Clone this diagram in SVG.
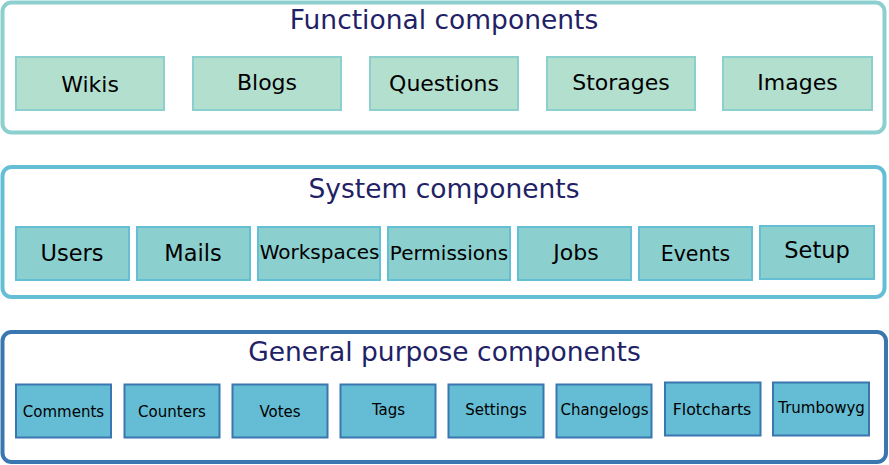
<svg xmlns="http://www.w3.org/2000/svg" width="889" height="465" viewBox="0 0 889 465">
<style>
text{font-family:"DejaVu Sans","Verdana",sans-serif;text-anchor:middle;fill:#000}
.title{font-size:26.5px;fill:#1f2266}
.frame{fill:#fff;stroke-width:4}
.f1{stroke:#8ccfcf}
.f2{stroke:#64bfd4}
.f3{stroke:#3a76b0}
.fb{fill:#b3dfcf;stroke:#8ccfcf;stroke-width:2}
.sb{fill:#8ccfcf;stroke:#64bfd4;stroke-width:2}
.gb{fill:#64bdd4;stroke:#3a76b0;stroke-width:2}
.lf{font-size:22px}
.lg{font-size:15px}
</style>
<rect width="889" height="465" fill="#fff"/>
<g id="functional">
<rect class="frame f1" x="2.5" y="2.5" width="882" height="130" rx="9"/>
<text class="title" x="444" y="29">Functional components</text>
</g>
<g id="wikis"><rect class="fb" x="16" y="57" width="148" height="53"/><text class="lf" x="90" y="92">Wikis</text></g>
<g id="blogs"><rect class="fb" x="193" y="57" width="148" height="53"/><text class="lf" x="267" y="90">Blogs</text></g>
<g id="questions"><rect class="fb" x="370" y="57" width="148" height="53"/><text class="lf" x="444" y="91">Questions</text></g>
<g id="storages"><rect class="fb" x="547" y="57" width="148" height="53"/><text class="lf" x="621" y="90">Storages</text></g>
<g id="images"><rect class="fb" x="723" y="57" width="149" height="53"/><text class="lf" x="797.5" y="90">Images</text></g>

<g id="system">
<rect class="frame f2" x="2.5" y="167" width="882" height="130" rx="9"/>
<text class="title" x="444" y="198">System components</text>
</g>
<g id="users"><rect class="sb" x="16" y="227" width="113" height="53"/><text x="72" y="261" font-size="22.5">Users</text></g>
<g id="mails"><rect class="sb" x="137" y="227" width="113" height="53"/><text x="193" y="261" font-size="22.5">Mails</text></g>
<g id="workspaces"><rect class="sb" x="258" y="227" width="122" height="53"/><text x="319.5" y="259" font-size="20">Workspaces</text></g>
<g id="permissions"><rect class="sb" x="388" y="227" width="122" height="53"/><text x="449" y="260" font-size="20">Permissions</text></g>
<g id="jobs"><rect class="sb" x="518" y="227" width="113" height="53"/><text x="576" y="260" font-size="22">Jobs</text></g>
<g id="events"><rect class="sb" x="639" y="227" width="113" height="53"/><text x="695.5" y="261" font-size="20.5">Events</text></g>
<g id="setup"><rect class="sb" x="760" y="226" width="114" height="53"/><text x="817" y="258" font-size="22.5">Setup</text></g>

<g id="general">
<rect class="frame f3" x="2.5" y="332" width="883.5" height="130" rx="9"/>
<text class="title" x="444.5" y="361">General purpose components</text>
</g>
<g id="comments"><rect class="gb" x="16" y="384.5" width="95" height="53"/><text class="lg" x="63.5" y="417">Comments</text></g>
<g id="counters"><rect class="gb" x="124.5" y="384.5" width="95" height="53"/><text class="lg" x="172" y="417">Counters</text></g>
<g id="votes"><rect class="gb" x="232.5" y="384.5" width="95" height="53"/><text class="lg" x="280" y="417">Votes</text></g>
<g id="tags"><rect class="gb" x="340.5" y="384.5" width="95" height="53"/><text class="lg" x="388.5" y="415">Tags</text></g>
<g id="settings"><rect class="gb" x="448.5" y="384.5" width="95" height="53"/><text class="lg" x="496" y="415" font-size="15.5">Settings</text></g>
<g id="changelogs"><rect class="gb" x="556.5" y="384.5" width="95" height="53"/><text class="lg" x="604.5" y="415">Changelogs</text></g>
<g id="flotcharts"><rect class="gb" x="665" y="382.5" width="95.5" height="53"/><text x="712" y="415" font-size="15.8">Flotcharts</text></g>
<g id="trumbowyg"><rect class="gb" x="773" y="382.5" width="96" height="53"/><text class="lg" x="821.5" y="413">Trumbowyg</text></g>
<g id="connectors"></g>
</svg>
